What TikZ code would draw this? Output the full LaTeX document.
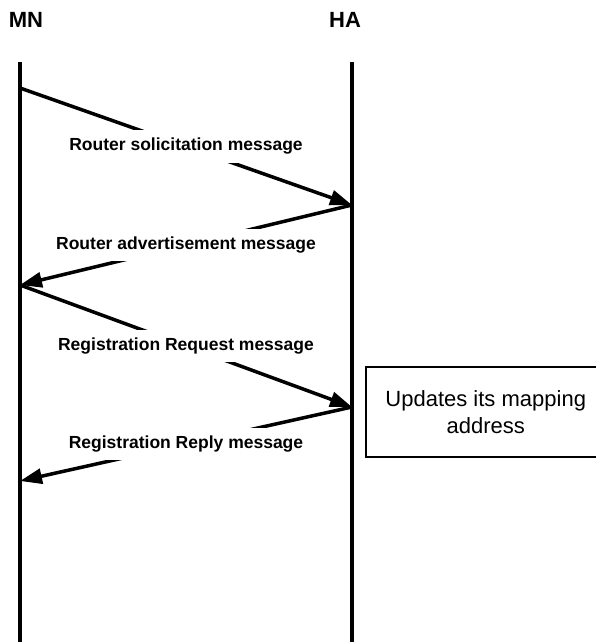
\documentclass[tikz,border=0pt]{standalone}
\usepackage{fontspec}
\setmainfont{Liberation Sans}
\usetikzlibrary{arrows.meta}
\begin{document}
\begin{tikzpicture}[x=1pt,y=-1pt,
  lifeline/.style={line width=3.5pt},
  msg/.style={line width=3.5pt,-{Triangle[length=22pt,width=15pt]}},
  lbl/.style={fill=white,inner xsep=2pt,inner ysep=8pt,font=\fontsize{17.5}{20}\selectfont\bfseries},
  actor/.style={font=\fontsize{22}{26}\selectfont\bfseries},
  note/.style={draw,line width=1.5pt,minimum width=240pt,minimum height=90pt,
    align=center,font=\fontsize{22}{27}\selectfont}]
  \useasboundingbox (0,0) rectangle (596,642);
  % actors
  \node[actor] (MN) at (26,20) {MN};
  \node[actor] (HA) at (345,20) {HA};
  % lifelines
  \coordinate (mnTop) at (20,62);
  \coordinate (mnBot) at (20,645);
  \coordinate (haTop) at (352,62);
  \coordinate (haBot) at (352,645);
  \draw[lifeline] (mnTop) -- (mnBot);
  \draw[lifeline] (haTop) -- (haBot);
  % message end points
  \coordinate (m1) at (20,88);
  \coordinate (h1) at (352,205);
  \coordinate (m2) at (20,285);
  \coordinate (h2) at (352,407);
  \coordinate (m3) at (20,481);
  % messages
  \draw[msg] (m1) -- node[lbl] {Router solicitation message} (h1);
  \draw[msg] (h1) -- node[lbl] {Router advertisement message} (m2);
  \draw[msg] (m2) -- node[lbl] {Registration Request message} (h2);
  \draw[msg] (h2) -- node[lbl] {Registration Reply message} (m3);
  % home agent action
  \node[note,anchor=north west] (upd) at (365,366) {Updates its mapping\\address};
\end{tikzpicture}
\end{document}
